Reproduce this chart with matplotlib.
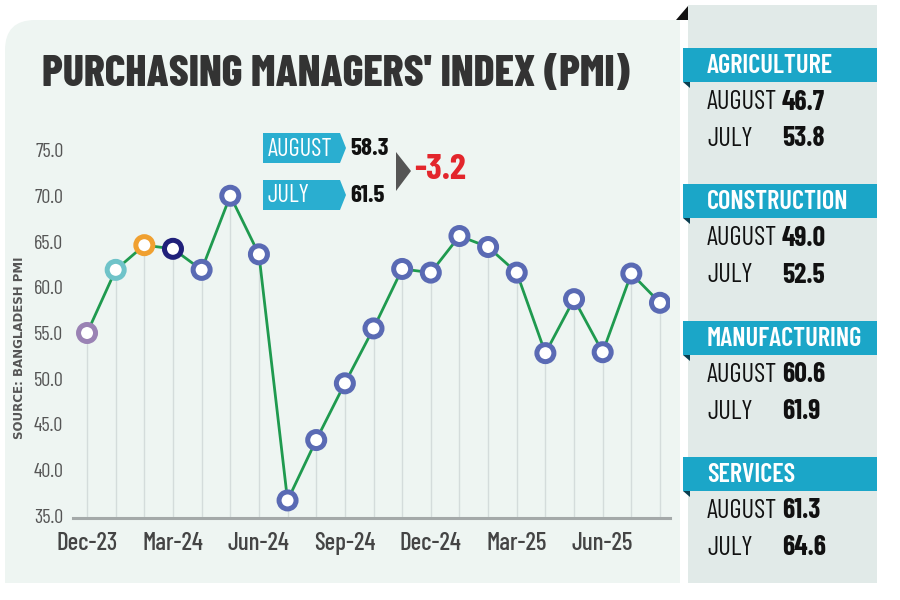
import matplotlib
matplotlib.use("Agg")
import matplotlib.pyplot as plt
from matplotlib.patches import Rectangle, FancyBboxPatch, Polygon

plt.rcParams['font.family'] = ['Barlow Condensed', 'Liberation Sans Narrow', 'DejaVu Sans']

# data
months = ['Dec-23', 'Jan-24', 'Feb-24', 'Mar-24', 'Apr-24', 'May-24', 'Jun-24',
          'Jul-24', 'Aug-24', 'Sep-24', 'Oct-24', 'Nov-24', 'Dec-24', 'Jan-25',
          'Feb-25', 'Mar-25', 'Apr-25', 'May-25', 'Jun-25', 'Jul-25', 'Aug-25']
pmi = [55.0, 61.9, 64.6, 64.2, 61.9, 70.0, 63.6, 36.7, 43.3, 49.5, 55.5,
       62.0, 61.6, 65.6, 64.4, 61.6, 52.8, 58.7, 52.9, 61.5, 58.3]
yticks = [35, 40, 45, 50, 55, 60, 65, 70, 75]

sectors = ['AGRICULTURE', 'CONSTRUCTION', 'MANUFACTURING', 'SERVICES']
sector_aug = [46.7, 49.0, 60.6, 61.3]
sector_jul = [53.8, 52.5, 61.9, 64.6]

overall_aug = 58.3
overall_jul = 61.5

CYAN = '#1ba6c8'
marker_edges = ['#9a82b4', '#6fc3c9', '#f0a030', '#20207a'] + ['#5a6ab4'] * (len(pmi) - 4)

fig = plt.figure(figsize=(9, 6), dpi=100)
fig.patch.set_facecolor('white')

# background drawn in pixel units
bg = fig.add_axes([0, 0, 1, 1], zorder=0)
bg.set_xlim(0, 900)
bg.set_ylim(600, 0)
bg.axis('off')

panel = '#eef5f2'
bg.add_patch(FancyBboxPatch((5, 20), 675, 563, boxstyle='round,pad=0,rounding_size=30',
                            fc=panel, ec='none'))
bg.add_patch(Rectangle((40, 20), 640, 563, fc=panel, ec='none'))
bg.add_patch(Rectangle((5, 55), 675, 528, fc=panel, ec='none'))
bg.add_patch(Rectangle((688, 5), 189, 578, fc='#e1eae8', ec='none'))
bg.add_patch(Polygon([(676, 20), (688, 20), (688, 6)], closed=True, fc='#111111', ec='none'))

bg.text(42, 75, "PURCHASING MANAGERS' INDEX (PMI)", fontsize=31.5, fontweight='heavy',
        color='#333333', ha='left', va='center')

bg.text(20, 348, 'SOURCE: BANGLADESH PMI', rotation=90, fontsize=8.5, fontweight='bold',
        color='#555555', ha='center', va='center', family=['DejaVu Sans'])

# sector boxes on the right
for i, name in enumerate(sectors):
    yc = 65 + i * 136.3
    bg.add_patch(Rectangle((683, yc - 17), 194, 34, fc=CYAN, ec='none'))
    bg.add_patch(Polygon([(683, yc + 17), (690, yc + 17), (690, yc + 23)], closed=True,
                         fc='#0b3e50', ec='none'))
    bg.text(707, yc + 1, name, fontsize=19, fontweight='semibold', color='white',
            ha='left', va='center')
    bg.text(707, yc + 37, 'AUGUST', fontsize=19, color='#111111', ha='left', va='center')
    bg.text(782, yc + 37, f'{sector_aug[i]:.1f}', fontsize=20, fontweight='bold',
            color='#111111', ha='left', va='center')
    bg.text(707, yc + 74, 'JULY', fontsize=19, color='#111111', ha='left', va='center')
    bg.text(782, yc + 74, f'{sector_jul[i]:.1f}', fontsize=20, fontweight='bold',
            color='#111111', ha='left', va='center')

# overall annotation
for label, val, yc in [('AUGUST', overall_aug, 148), ('JULY', overall_jul, 195)]:
    bg.add_patch(Polygon([(263, yc - 15), (340, yc - 15), (346, yc), (340, yc + 15),
                          (263, yc + 15)], closed=True, fc='#2aaed0', ec='none'))
    bg.text(268, yc + 1, label, fontsize=17.5, color='white', ha='left', va='center')
    bg.text(350, yc + 1, f'{val:.1f}', fontsize=18, fontweight='bold', color='#111111',
            ha='left', va='center')
bg.add_patch(Polygon([(396, 152), (411, 171), (396, 191)], closed=True, fc='#555555', ec='none'))
bg.text(414, 170, f'{overall_aug - overall_jul:.1f}', fontsize=26, fontweight='bold',
        color='#e3262c', ha='left', va='center')

# main chart
ax = fig.add_axes([73 / 900, 82 / 600, 597 / 900, 370 / 600], zorder=1)
ax.patch.set_alpha(0)
x = list(range(len(pmi)))
ax.set_xlim(-0.49, 20.35)
ax.set_ylim(34.78, 75.22)

ax.vlines(x, 34.78, pmi, color='#d4dcdb', lw=1, zorder=1)
ax.plot(x, pmi, color='#1f9a4f', lw=2, zorder=2)
ax.scatter(x, pmi, s=150, facecolor='white', edgecolors=marker_edges, linewidths=3.6, zorder=3)

for s in ['top', 'right', 'left']:
    ax.spines[s].set_visible(False)
ax.spines['bottom'].set_color('#a4a9a9')
ax.spines['bottom'].set_linewidth(2.2)

ax.set_yticks(yticks)
ax.set_yticklabels([f'{v:.1f}' for v in yticks], fontsize=14.5, color='#555555')
ax.set_xticks(x[::3])
ax.set_xticklabels(months[::3], fontsize=18, fontweight='medium', color='#444444')
ax.tick_params(axis='y', length=0, pad=7)
ax.tick_params(axis='x', length=0, pad=10)

fig.savefig('out.png', dpi=100, facecolor='white')
